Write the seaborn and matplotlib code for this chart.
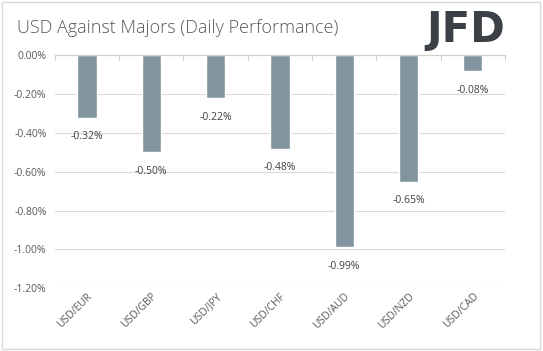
import pandas as pd
import numpy as np
import matplotlib
matplotlib.use('Agg')
import matplotlib.pyplot as plt
import seaborn as sns
from matplotlib.patches import Rectangle

sns.set_theme(style='white')
plt.rcParams['font.family'] = ['Open Sans', 'DejaVu Sans']

# data
pairs = ['USD/EUR', 'USD/GBP', 'USD/JPY', 'USD/CHF', 'USD/AUD', 'USD/NZD', 'USD/CAD']
change = [-0.32, -0.50, -0.22, -0.48, -0.99, -0.65, -0.08]
yticks = [0.0, -0.2, -0.4, -0.6, -0.8, -1.0, -1.2]

df = pd.DataFrame({'pair': pairs, 'change': change})

grey_txt = '#595959'
bar_col = '#82959e'

fig = plt.figure(figsize=(5.43, 3.51), dpi=100)
ax = fig.add_axes([0.101, 0.179, 0.829, 0.663])

sns.barplot(data=df, x='pair', y='change', color=bar_col, width=0.3,
            saturation=1, ax=ax)

ax.set_ylim(-1.2, 0)
ax.set_xlim(-0.5, len(pairs) - 0.5)
ax.set_yticks(yticks)
ax.set_yticklabels([f'{v:.2f}%' for v in yticks], color=grey_txt, fontsize=7.5)
ax.yaxis.grid(True, color='#d9d9d9', linewidth=0.8)
ax.set_axisbelow(True)
ax.set_xlabel('')
ax.set_ylabel('')

for s in ['left', 'right', 'bottom']:
    ax.spines[s].set_visible(False)
ax.spines['top'].set_color('#d0d0d0')
ax.spines['top'].set_linewidth(0.8)

ax.tick_params(axis='y', length=0, pad=6)
ax.tick_params(axis='x', length=0, pad=2)
ax.set_xticks(range(len(pairs)))
ax.set_xticklabels(pairs, rotation=45, ha='right', rotation_mode='anchor',
                   color=grey_txt, fontsize=7.5)

# category boundary ticks on the zero line
for b in np.arange(-0.5, len(pairs), 1.0):
    ax.plot([b, b], [0, -0.025], color='#d0d0d0', linewidth=0.8, clip_on=False)

# data labels
for i, v in enumerate(change):
    ax.annotate(f'{v:.2f}%', (i, v), xytext=(0, -14), textcoords='offset points',
                ha='center', va='center', fontsize=7.5, color='#404040')

fig.text(0.031, 0.92, 'USD Against Majors (Daily Performance)', fontsize=13,
         color=grey_txt, va='center', ha='left', fontweight='light')
fig.text(0.93, 0.915, 'JFD', fontsize=30, fontweight='bold', color='#3b4047',
         ha='right', va='center', family=['Liberation Sans Narrow', 'DejaVu Sans'])

fig.patches.append(Rectangle((0.004, 0.006), 0.99, 0.988, transform=fig.transFigure,
                             fill=False, edgecolor='#d9d9d9', linewidth=1))

fig.savefig('out.png', dpi=100)
